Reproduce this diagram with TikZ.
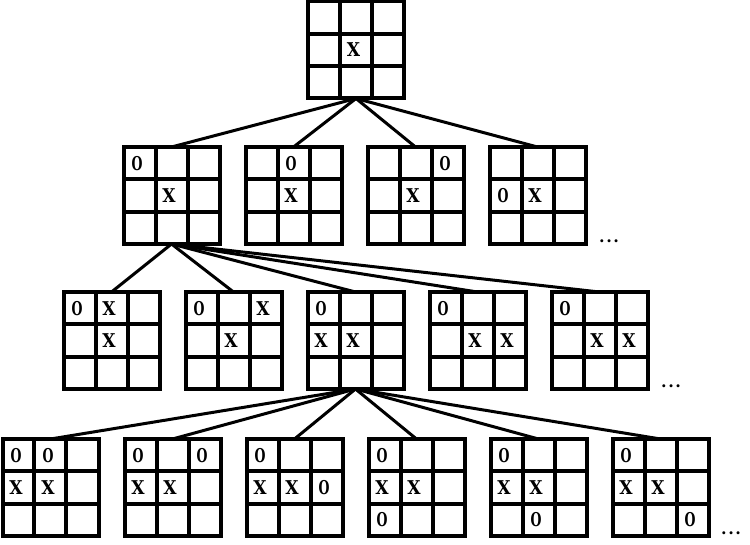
\documentclass[tikz,border=0pt]{standalone}
\usepackage{fontspec}
\usepackage{graphicx}
\setmainfont{Liberation Serif}
\newfontfamily\markfont{DejaVu Serif}
\usetikzlibrary{calc}
\tikzset{
 board/.style={draw, line width=4pt, minimum width=96pt, minimum height=97pt, inner sep=0pt, outer sep=0pt},
 gridline/.style={line width=4pt},
 edgeline/.style={line width=3pt},
 tmark/.style={font=\markfont\bfseries\fontsize{19}{19}\selectfont, inner sep=0pt},
 moredots/.style={font=\markfont\bfseries\fontsize{16}{16}\selectfont, inner sep=0pt, anchor=base west}
}
\newcommand\brd[3]{\node[board] (#1) at (#2,#3) {};
 \draw[gridline] ($(#1.north west)!1/3!(#1.north east)$) -- ($(#1.south west)!1/3!(#1.south east)$);
 \draw[gridline] ($(#1.north west)!2/3!(#1.north east)$) -- ($(#1.south west)!2/3!(#1.south east)$);
 \draw[gridline] ($(#1.north west)!1/3!(#1.south west)$) -- ($(#1.north east)!1/3!(#1.south east)$);
 \draw[gridline] ($(#1.north west)!2/3!(#1.south west)$) -- ($(#1.north east)!2/3!(#1.south east)$);
}
\newcommand\mk[4]{\node[tmark] (#1m#2#3) at ($(#1.north west)+(#2*32-18.5,#3*32.33-16.17)$) {#4};}
\newcommand\markX{\scalebox{0.9}[1]{X}}
\newcommand\markO{\scalebox{0.66}[1]{O}}
\begin{document}
\begin{tikzpicture}[x=1pt,y=-1pt]
\useasboundingbox (0,0) rectangle (750,545);
% level 1
\brd{t}{356}{50}
\mk{t}{2}{2}{\markX}
% level 2
\brd{a1}{171.5}{195.5}
\brd{a2}{293.5}{195.5}
\brd{a3}{415.5}{195.5}
\brd{a4}{537.5}{195.5}
\mk{a1}{1}{1}{\markO}\mk{a1}{2}{2}{\markX}
\mk{a2}{2}{1}{\markO}\mk{a2}{2}{2}{\markX}
\mk{a3}{3}{1}{\markO}\mk{a3}{2}{2}{\markX}
\mk{a4}{1}{2}{\markO}\mk{a4}{2}{2}{\markX}
\node[moredots] (more2) at (599,243) {.\hspace{1.5pt}.\hspace{1.5pt}.};
% level 3
\brd{b1}{111.5}{340.5}
\brd{b2}{233.5}{340.5}
\brd{b3}{355.5}{340.5}
\brd{b4}{477.5}{340.5}
\brd{b5}{599.5}{340.5}
\mk{b1}{1}{1}{\markO}\mk{b1}{2}{1}{\markX}\mk{b1}{2}{2}{\markX}
\mk{b2}{1}{1}{\markO}\mk{b2}{3}{1}{\markX}\mk{b2}{2}{2}{\markX}
\mk{b3}{1}{1}{\markO}\mk{b3}{1}{2}{\markX}\mk{b3}{2}{2}{\markX}
\mk{b4}{1}{1}{\markO}\mk{b4}{2}{2}{\markX}\mk{b4}{3}{2}{\markX}
\mk{b5}{1}{1}{\markO}\mk{b5}{2}{2}{\markX}\mk{b5}{3}{2}{\markX}
\node[moredots] (more3) at (661,388) {.\hspace{1.5pt}.\hspace{1.5pt}.};
% level 4
\brd{c1}{50.5}{487.5}
\brd{c2}{172.5}{487.5}
\brd{c3}{294.5}{487.5}
\brd{c4}{416.5}{487.5}
\brd{c5}{538.5}{487.5}
\brd{c6}{660.5}{487.5}
\mk{c1}{1}{1}{\markO}\mk{c1}{2}{1}{\markO}\mk{c1}{1}{2}{\markX}\mk{c1}{2}{2}{\markX}
\mk{c2}{1}{1}{\markO}\mk{c2}{3}{1}{\markO}\mk{c2}{1}{2}{\markX}\mk{c2}{2}{2}{\markX}
\mk{c3}{1}{1}{\markO}\mk{c3}{1}{2}{\markX}\mk{c3}{2}{2}{\markX}\mk{c3}{3}{2}{\markO}
\mk{c4}{1}{1}{\markO}\mk{c4}{1}{2}{\markX}\mk{c4}{2}{2}{\markX}\mk{c4}{1}{3}{\markO}
\mk{c5}{1}{1}{\markO}\mk{c5}{1}{2}{\markX}\mk{c5}{2}{2}{\markX}\mk{c5}{2}{3}{\markO}
\mk{c6}{1}{1}{\markO}\mk{c6}{1}{2}{\markX}\mk{c6}{2}{2}{\markX}\mk{c6}{3}{3}{\markO}
\node[moredots] (more4) at (721,534) {.\hspace{1.5pt}.\hspace{1.5pt}.};
% connectors
\foreach \n in {a1,a2,a3,a4} \draw[edgeline] (t.south) -- (\n.north);
\foreach \n in {b1,b2,b3,b4,b5} \draw[edgeline] (a1.south) -- (\n.north);
\foreach \n in {c1,c2,c3,c4,c5,c6} \draw[edgeline] (b3.south) -- (\n.north);
\end{tikzpicture}
\end{document}
